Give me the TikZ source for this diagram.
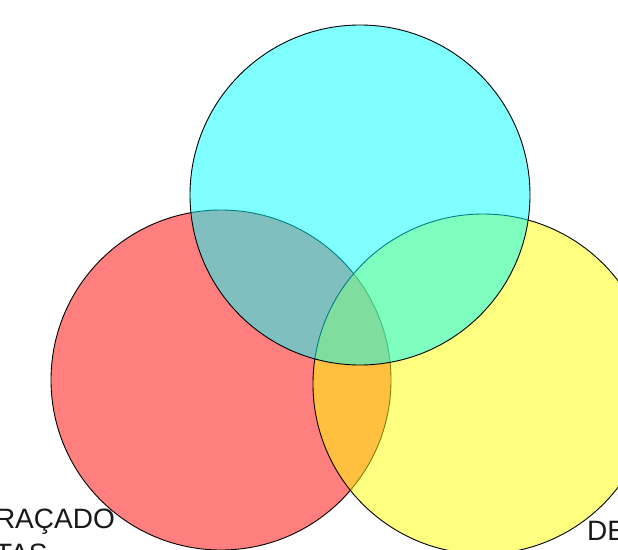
\documentclass[tikz,border=0pt]{standalone}
\usepackage{fontspec}
\setmainfont{Liberation Sans}
\definecolor{vred}{RGB}{255,0,0}
\definecolor{vyellow}{RGB}{255,255,0}
\definecolor{vcyan}{RGB}{0,255,255}
\begin{document}
\begin{tikzpicture}[x=1pt,y=-1pt,
  venn/.style={circle, draw=black, line width=0.9pt, fill opacity=0.5, minimum size=340pt, inner sep=0pt},
  lbl/.style={font=\fontsize{28}{30}\selectfont, inner sep=0pt, text=black!90}]
\useasboundingbox (0,0) rectangle (618,549);
\node[venn, fill=vred] (r) at (221,380) {};
\node[venn, fill=vyellow] (y) at (483,384) {};
\node[venn, fill=vcyan] (c) at (360,195) {};
\node[lbl, anchor=base east] (t1) at (115,528) {TRAÇADO};
\node[lbl, anchor=base west] (t2) at (-5,563) {TAS};
\node[lbl, anchor=base west] (t3) at (587,540) {DE};
\end{tikzpicture}
\end{document}
